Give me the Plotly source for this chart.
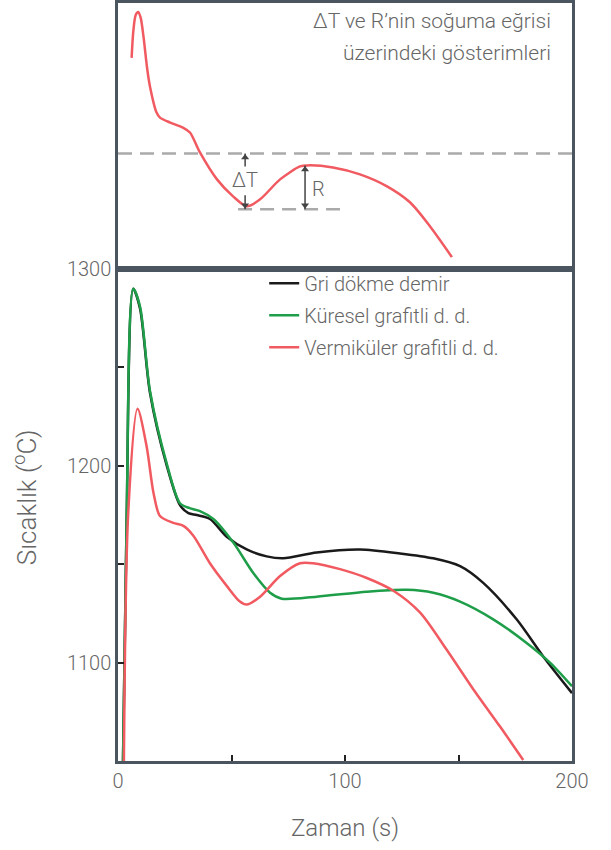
import plotly.graph_objects as go

# ---- main chart data (time s, temperature C) ----
gray_t = [2.2, 3.8, 6.7, 9.7, 14.1, 21.5, 27.3, 31.0, 34.7, 40.5, 47.9, 56.7, 65.5, 72.8, 87.5, 106.6, 124.2, 138.9, 150.7, 160.9, 175.6, 187.4, 200]
gray_T = [1050, 1173, 1290, 1280, 1237, 1200, 1180, 1176, 1175, 1173, 1164, 1157.5, 1154, 1153, 1156, 1157.5, 1155.5, 1153, 1149, 1140.5, 1122, 1103, 1084.5]

green_t = [2.2, 3.8, 6.7, 9.7, 14.1, 21.5, 27.3, 31.5, 36.1, 42.0, 50.8, 59.6, 67.0, 72.1, 87.5, 109.6, 127.2, 138.9, 150.7, 165.3, 180.0, 190.3, 200]
green_T = [1050, 1173, 1290, 1281, 1238, 1201, 1181, 1178.5, 1177, 1173, 1161, 1145.5, 1135.5, 1132.5, 1133.5, 1136, 1137, 1135.5, 1131, 1122, 1110, 1100, 1088]

red_t = [2.6, 4.5, 8.6, 12.6, 15.6, 18.5, 24.4, 28.8, 33.2, 40.5, 47.9, 53.7, 56.7, 62.6, 71.4, 80.2, 86.0, 97.8, 109.6, 121.3, 133.0, 144.8, 156.5, 168.3, 178.5]
red_T = [1050, 1176, 1229, 1210, 1186.5, 1174.5, 1171, 1169.5, 1164.5, 1150.5, 1139, 1131, 1129.5, 1133.5, 1144, 1150.5, 1150.5, 1147.5, 1143, 1136.5, 1125.5, 1106.5, 1086.5, 1067.5, 1050.5]

# ---- inset (schematic, arbitrary height units) ----
inset_t = [6.0, 6.8, 7.8, 8.9, 10.0, 11.3, 12.8, 14.1, 17.0, 18.5, 23.0, 28.6, 31.7, 36.1, 43.6, 50.7, 56.8, 62.6, 71.4, 80.2, 83.3, 94.7, 106.6, 118.5, 128.6, 137.4, 147.1]
inset_h = [212, 240, 255, 258, 252, 232, 202, 183, 157, 152, 147, 142, 137, 117, 90, 73, 63, 70, 90, 103, 104, 102, 95, 83, 67, 43, 12]
level_high = 116
level_low = 60
r_top = 104
dt_x = 56.0
r_x = 82.4
low_line_t = [52.9, 97.8]
dt_up_shaft = [103, 116]
dt_down_shaft = [60, 74]

frame = "#4a5560"
txt = "#666666"
ac = "#444444"
FONT = "Roboto"
W = 300

fig = go.Figure()
fig.add_trace(go.Scatter(x=gray_t, y=gray_T, mode="lines", name="Gri dökme demir",
                         line=dict(color="#1a1a1a", width=2.5, shape="spline", smoothing=0.8),
                         legendgroup="a", xaxis="x", yaxis="y"))
fig.add_trace(go.Scatter(x=green_t, y=green_T, mode="lines", name="Küresel grafitli d. d.",
                         line=dict(color="#1f9e4a", width=2.5, shape="spline", smoothing=0.8),
                         legendgroup="b", xaxis="x", yaxis="y"))
fig.add_trace(go.Scatter(x=red_t, y=red_T, mode="lines", name="Vermiküler grafitli d. d.",
                         line=dict(color="#f05a60", width=2.5, shape="spline", smoothing=0.8),
                         legendgroup="c", xaxis="x", yaxis="y"))

# inset dashed lines
fig.add_trace(go.Scatter(x=[0, 200], y=[level_high, level_high], mode="lines", showlegend=False,
                         line=dict(color="#aaaaaa", width=2.5, dash="14px,8px"), xaxis="x2", yaxis="y2"))
fig.add_trace(go.Scatter(x=low_line_t, y=[level_low, level_low], mode="lines", showlegend=False,
                         line=dict(color="#aaaaaa", width=2.5, dash="14px,8px"), xaxis="x2", yaxis="y2"))
fig.add_trace(go.Scatter(x=inset_t, y=inset_h, mode="lines", showlegend=False,
                         line=dict(color="#f05a60", width=2.5, shape="spline", smoothing=0.8),
                         xaxis="x2", yaxis="y2"))

# arrow shafts
for ys in (dt_up_shaft, dt_down_shaft):
    fig.add_trace(go.Scatter(x=[dt_x, dt_x], y=ys, mode="lines", showlegend=False,
                             line=dict(color=ac, width=1.5), xaxis="x2", yaxis="y2"))
fig.add_trace(go.Scatter(x=[r_x, r_x], y=[level_low, r_top], mode="lines", showlegend=False,
                         line=dict(color=ac, width=1.5), xaxis="x2", yaxis="y2"))
# arrow heads
fig.add_trace(go.Scatter(x=[dt_x, r_x], y=[level_high - 4, r_top - 4], mode="markers", showlegend=False,
                         marker=dict(symbol="triangle-up", size=7, color=ac, line=dict(width=0)),
                         xaxis="x2", yaxis="y2"))
fig.add_trace(go.Scatter(x=[dt_x, r_x], y=[level_low + 4, level_low + 4], mode="markers", showlegend=False,
                         marker=dict(symbol="triangle-down", size=7, color=ac, line=dict(width=0)),
                         xaxis="x2", yaxis="y2"))

annos = []
annos.append(dict(x=dt_x, y=(level_high + level_low) / 2 + 1, xref="x2", yref="y2", text="ΔT",
                  showarrow=False, font=dict(family=FONT, size=20, color=txt, weight=W)))
annos.append(dict(x=r_x + 2.2, y=(r_top + level_low) / 2 - 2, xref="x2", yref="y2", text="R",
                  xanchor="left", showarrow=False, font=dict(family=FONT, size=20, color=txt, weight=W)))
# inset caption (two lines)
annos.append(dict(x=0.958, y=0.976, xref="paper", yref="paper", xanchor="right", yanchor="middle",
                  showarrow=False, text="ΔT ve R’nin soğuma eğrisi",
                  font=dict(family=FONT, size=21, color=txt, weight=W)))
annos.append(dict(x=0.958, y=0.934, xref="paper", yref="paper", xanchor="right", yanchor="middle",
                  showarrow=False, text="üzerindeki gösterimleri",
                  font=dict(family=FONT, size=21, color=txt, weight=W)))
# y-axis title
annos.append(dict(x=-0.205, y=0.348, xref="paper", yref="paper", xanchor="center", yanchor="middle",
                  textangle=-90, showarrow=False, text="Sıcaklık (<sup>o</sup>C)",
                  font=dict(family=FONT, size=26, color=txt, weight=W)))

fig.update_layout(
    width=611, height=850,
    margin=dict(l=118, r=39, t=3, b=89, autoexpand=False),
    plot_bgcolor="white", paper_bgcolor="white",
    font=dict(family=FONT, color=txt, size=21, weight=W),
    xaxis=dict(domain=[0, 1], range=[0, 200], tickvals=[0, 100, 200], ticks="",
               showgrid=False, zeroline=False, showline=True, mirror=True, automargin=False,
               linecolor=frame, linewidth=2.5, anchor="y",
               minor=dict(tickvals=[50, 100, 150], ticks="inside", ticklen=6, tickwidth=2, tickcolor="#222"),
               tickfont=dict(size=20, color=txt, family=FONT, weight=W),
               title=dict(text="Zaman (s)", standoff=28, font=dict(size=24, color=txt, family=FONT, weight=W))),
    yaxis=dict(domain=[0, 0.649], range=[1050, 1300], tickvals=[1100, 1200, 1300], ticks="",
               showgrid=False, zeroline=False, showline=True, mirror=True, automargin=False,
               linecolor=frame, linewidth=2.5, anchor="x",
               minor=dict(tickvals=[1100, 1150, 1200, 1250], ticks="inside", ticklen=6, tickwidth=2, tickcolor="#222"),
               tickfont=dict(size=20, color=txt, family=FONT, weight=W)),
    xaxis2=dict(domain=[0, 1], range=[0, 200], showticklabels=False, ticks="", showgrid=False,
                zeroline=False, showline=True, mirror=True, linecolor=frame, linewidth=2.5, anchor="y2"),
    yaxis2=dict(domain=[0.649, 1], range=[0, 267], showticklabels=False, ticks="", showgrid=False,
                zeroline=False, showline=True, mirror=True, linecolor=frame, linewidth=2.5, anchor="x2"),
    legend=dict(x=0.322, y=0.656, xanchor="left", yanchor="top", bgcolor="rgba(0,0,0,0)",
                tracegroupgap=3, itemwidth=30,
                font=dict(size=20, color=txt, family=FONT, weight=W)),
    annotations=annos,
)

fig.write_html("out.html")
